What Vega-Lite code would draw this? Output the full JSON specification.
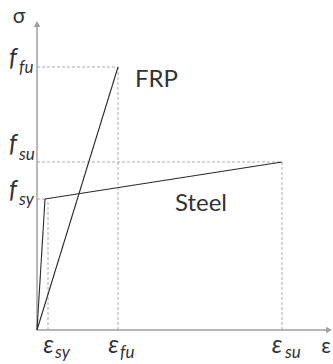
{
  "$schema": "https://vega.github.io/schema/vega-lite/v6.json",
  "width": 333,
  "height": 364,
  "autosize": "none",
  "padding": 0,
  "background": "white",
  "config": {"view": {"stroke": null}},
  "datasets": {
    "segments": [
      {"kind": "axis", "x": 0, "y": 0, "x2": 0, "y2": 304},
      {"kind": "axis", "x": 0, "y": 0, "x2": 290, "y2": 0},
      {"kind": "guide", "x": 0, "y": 263, "x2": 81, "y2": 263},
      {"kind": "guide", "x": 81, "y": 263, "x2": 81, "y2": 0},
      {"kind": "guide", "x": 0, "y": 168, "x2": 245, "y2": 168},
      {"kind": "guide", "x": 245, "y": 168, "x2": 245, "y2": 0},
      {"kind": "guide", "x": 0, "y": 131, "x2": 8, "y2": 131},
      {"kind": "guide", "x": 11, "y": 128, "x2": 11, "y2": 0},
      {"kind": "curve", "x": 0, "y": 0, "x2": 81, "y2": 263},
      {"kind": "curve", "x": 0, "y": 0, "x2": 8, "y2": 131},
      {"kind": "curve", "x": 8, "y": 131, "x2": 245, "y2": 168}
    ],
    "arrows": [
      {"x": 0, "y": 306, "shape": "triangle-up"},
      {"x": 292, "y": 0, "shape": "triangle-right"}
    ],
    "symbols": [
      {"x": -24, "y": 264, "text": "f"},
      {"x": -24, "y": 178, "text": "f"},
      {"x": -24, "y": 132, "text": "f"},
      {"x": 11.5, "y": -23, "text": "ε"},
      {"x": 76.5, "y": -23, "text": "ε"},
      {"x": 240, "y": -23, "text": "ε"}
    ],
    "subscripts": [
      {"x": -18, "y": 257, "text": "fu"},
      {"x": -18, "y": 170, "text": "su"},
      {"x": -18, "y": 125, "text": "sy"},
      {"x": 18, "y": -28, "text": "sy"},
      {"x": 83, "y": -28, "text": "fu"},
      {"x": 248, "y": -28, "text": "su"}
    ],
    "axisNames": [
      {"x": -18, "y": 307, "text": "σ"},
      {"x": 289, "y": -23, "text": "ε"}
    ],
    "materials": [
      {"x": 98, "y": 243, "text": "FRP"},
      {"x": 138, "y": 119, "text": "Steel"}
    ]
  },
  "encoding": {
    "x": {"field": "x", "type": "quantitative", "scale": {"domain": [-37, 296], "nice": false, "zero": false}, "axis": null},
    "y": {"field": "y", "type": "quantitative", "scale": {"domain": [-34, 330], "nice": false, "zero": false}, "axis": null}
  },
  "layer": [
    {
      "data": {"name": "segments"},
      "transform": [{"filter": "datum.kind === 'guide'"}],
      "mark": {"type": "rule", "color": "#ababab", "strokeWidth": 1, "strokeDash": [3, 2]},
      "encoding": {"x2": {"field": "x2"}, "y2": {"field": "y2"}}
    },
    {
      "data": {"name": "segments"},
      "transform": [{"filter": "datum.kind === 'axis'"}],
      "mark": {"type": "rule", "color": "#a0a0a0", "strokeWidth": 1.5},
      "encoding": {"x2": {"field": "x2"}, "y2": {"field": "y2"}}
    },
    {
      "data": {"name": "segments"},
      "transform": [{"filter": "datum.kind === 'curve'"}],
      "mark": {"type": "rule", "color": "#2a2a2a", "strokeWidth": 1.1},
      "encoding": {"x2": {"field": "x2"}, "y2": {"field": "y2"}}
    },
    {
      "data": {"name": "arrows"},
      "mark": {"type": "point", "filled": true, "color": "#a0a0a0", "size": 45, "opacity": 1},
      "encoding": {"shape": {"field": "shape", "type": "nominal", "scale": null}}
    },
    {
      "data": {"name": "symbols"},
      "mark": {"type": "text", "font": "Lato", "fontStyle": "italic", "fontSize": 25, "align": "center", "baseline": "alphabetic", "color": "#333333"},
      "encoding": {"text": {"field": "text"}}
    },
    {
      "data": {"name": "subscripts"},
      "mark": {"type": "text", "font": "Lato", "fontStyle": "italic", "fontSize": 17, "align": "left", "baseline": "alphabetic", "color": "#333333"},
      "encoding": {"text": {"field": "text"}}
    },
    {
      "data": {"name": "axisNames"},
      "mark": {"type": "text", "font": "Lato", "fontSize": 21, "align": "center", "baseline": "alphabetic", "color": "#333333"},
      "encoding": {"text": {"field": "text"}}
    },
    {
      "data": {"name": "materials"},
      "mark": {"type": "text", "font": "Lato", "fontSize": 24, "align": "left", "baseline": "alphabetic", "color": "#333333"},
      "encoding": {"text": {"field": "text"}}
    }
  ]
}
